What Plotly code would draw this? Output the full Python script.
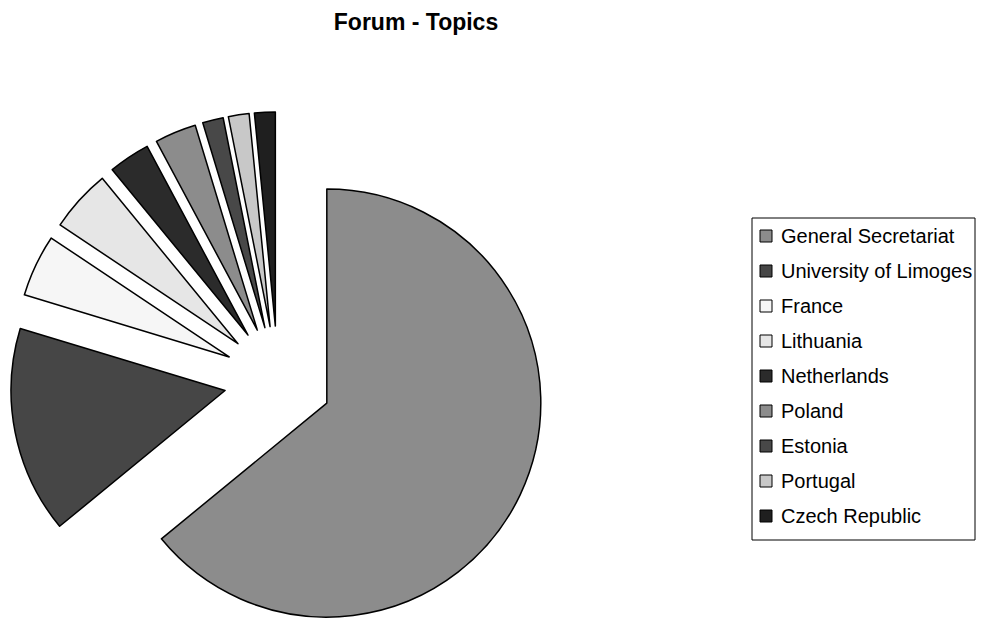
import math
import plotly.graph_objects as go

# ---------------- data ----------------
labels = ["General Secretariat", "University of Limoges", "France", "Lithuania",
          "Netherlands", "Poland", "Estonia", "Portugal", "Czech Republic"]
values = [41, 10, 3, 3, 2, 2, 1, 1, 1]
colors = ["#8c8c8c", "#464646", "#f6f6f6", "#e6e6e6", "#2b2b2b",
          "#8c8c8c", "#484848", "#c8c8c8", "#1f1f1f"]
title_text = "Forum - Topics"

# ---------------- geometry / style ----------------
W, H = 996, 618
R = 214            # slice radius (px)
EXPLODE = 54       # explosion distance (px)
CX, CY = 278, 380  # pie centre before explosion (px)
FONT = "Liberation Sans, Arial, sans-serif"

try:
    go.Pie(showlegend=[True, False])
    PER_SLICE = True
except Exception:
    PER_SLICE = False

total = float(sum(values))
fig = go.Figure()
cum = 0.0
for k, (lab, v) in enumerate(zip(labels, values)):
    mid = (cum + v / 2.0) / total * 2 * math.pi
    cum += v
    ax = CX + EXPLODE * math.sin(mid)
    ay = CY - EXPLODE * math.cos(mid)
    dx = [max(0.0, (ax - R) / W), min(1.0, (ax + R) / W)]
    dy = [max(0.0, 1 - (ay + R) / H), min(1.0, 1 - (ay - R) / H)]
    mcols = [colors[j] if j == k else "rgba(0,0,0,0)" for j in range(len(values))]
    lw = [1.5 if j == k else 0 for j in range(len(values))]
    kw = {}
    if PER_SLICE:
        kw["showlegend"] = [j == k for j in range(len(values))]
        kw["legendgroup"] = "g%d" % k
    else:
        kw["showlegend"] = False
    fig.add_trace(go.Pie(
        labels=labels, values=values, sort=False, direction="clockwise",
        rotation=0, domain=dict(x=dx, y=dy),
        marker=dict(colors=mcols, line=dict(color="black", width=lw)),
        textinfo="none", hoverinfo="label+value+percent",
        **kw
    ))

LEG_L, LEG_T, LEG_R, LEG_B = 752, 218, 975, 540
ROW0, ROWSTEP = 236, 35

if PER_SLICE:
    fig.update_layout(
        showlegend=True,
        legend=dict(x=LEG_L / W, y=1 - LEG_T / H, xanchor="left", yanchor="top",
                    bordercolor="black", borderwidth=1, bgcolor="white",
                    font=dict(family=FONT, size=20, color="black"),
                    tracegroupgap=6, traceorder="normal"),
    )
else:
    shapes = [dict(type="rect", xref="paper", yref="paper",
                   x0=LEG_L / W, x1=LEG_R / W, y0=1 - LEG_B / H, y1=1 - LEG_T / H,
                   line=dict(color="black", width=1), fillcolor="white", layer="below")]
    annotations = []
    for i, lab in enumerate(labels):
        yc = ROW0 + i * ROWSTEP
        shapes.append(dict(type="rect", xref="paper", yref="paper",
                           x0=760 / W, x1=772 / W, y0=1 - (yc + 6) / H, y1=1 - (yc - 6) / H,
                           line=dict(color="black", width=1), fillcolor=colors[i]))
        annotations.append(dict(xref="paper", yref="paper", x=779 / W, y=1 - yc / H,
                                xanchor="left", yanchor="middle", showarrow=False,
                                text=lab, font=dict(family=FONT, size=20, color="black")))
    fig.update_layout(showlegend=False, shapes=shapes, annotations=annotations)

fig.update_layout(
    width=W, height=H, autosize=False,
    margin=dict(l=0, r=0, t=0, b=0),
    paper_bgcolor="white", plot_bgcolor="white",
    title=dict(text=title_text, x=416 / W, xanchor="center", xref="paper",
               y=1 - 22 / H, yanchor="middle", yref="container",
               font=dict(family=FONT, size=23, color="black", weight="bold")),
)

fig.write_html("out.html")
